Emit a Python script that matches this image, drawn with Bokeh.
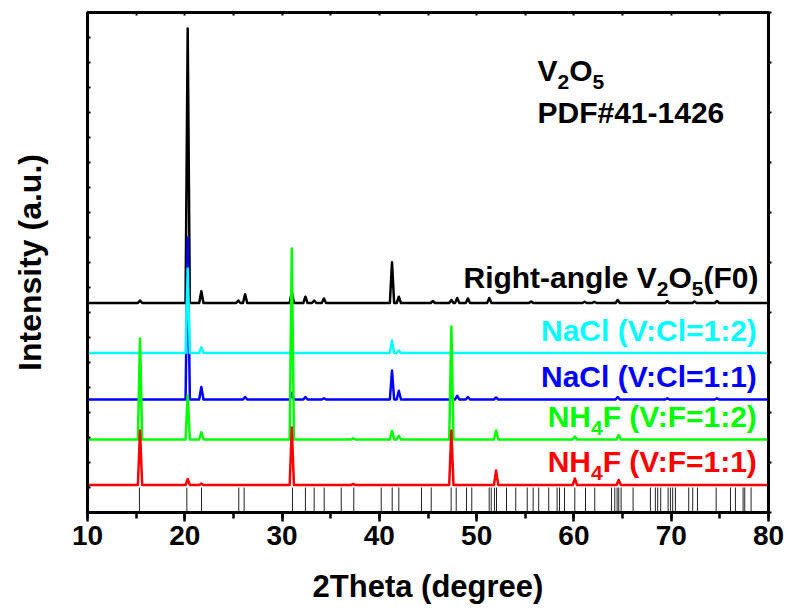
from bokeh.plotting import figure
from bokeh.models import Label, LinearAxis, SingleIntervalTicker, CustomJSTickFormatter
from bokeh.embed import file_html
from bokeh.resources import INLINE

# ---------------- data ----------------
x_range_deg = (10, 80)
y_range_au = (0, 20)
x_tick_labels = ["10", "20", "30", "40", "50", "60", "70", "80"]

# draw order: black, blue, cyan, green, red
series_labels = ["Right-angle V2O5(F0)", "NaCl (V:Cl=1:1)", "NaCl (V:Cl=1:2)",
                 "NH4F (V:F=1:2)", "NH4F (V:F=1:1)"]
series_colors = ["#000000", "#0000FF", "#00FFFF", "#00FF00", "#FF0000"]
series_baselines = [8.38, 4.52, 6.38, 2.92, 1.10]

f0_pos = [15.4, 20.3, 21.7, 25.5, 26.2, 31.0, 32.4, 33.3, 34.3, 41.3, 42.0,
          45.5, 47.4, 48.0, 49.1, 51.3, 55.6, 61.1, 62.1, 64.5, 69.6, 72.4, 74.7]
f0_h = [0.10, 10.98, 0.47, 0.10, 0.35, 0.45, 0.25, 0.10, 0.18, 1.63, 0.25,
        0.08, 0.12, 0.20, 0.18, 0.20, 0.06, 0.05, 0.05, 0.12, 0.08, 0.06, 0.08]

nacl11_pos = [15.4, 20.3, 21.7, 26.2, 31.0, 32.4, 34.3, 41.3, 42.0, 47.4, 48.0,
              49.1, 52.0, 64.5, 69.6, 74.7]
nacl11_h = [0.10, 6.48, 0.50, 0.10, 0.27, 0.10, 0.05, 1.16, 0.35, 0.12, 0.15,
            0.10, 0.08, 0.10, 0.05, 0.05]

nacl12_pos = [15.4, 20.3, 21.7, 31.0, 41.3, 42.0, 47.4]
nacl12_h = [0.05, 3.38, 0.23, 0.15, 0.50, 0.10, 0.05]

nh4f12_pos = [15.4, 20.3, 21.7, 31.0, 37.3, 41.3, 42.0, 47.4, 52.0, 60.1, 64.6]
nh4f12_h = [4.04, 1.76, 0.29, 7.64, 0.05, 0.35, 0.15, 4.52, 0.36, 0.12, 0.18]

nh4f11_pos = [15.4, 20.3, 21.7, 31.0, 37.3, 47.4, 52.0, 60.1, 64.6]
nh4f11_h = [2.18, 0.24, 0.06, 2.30, 0.04, 2.18, 0.58, 0.26, 0.20]

series_pos = [f0_pos, nacl11_pos, nacl12_pos, nh4f12_pos, nh4f11_pos]
series_h = [f0_h, nacl11_h, nacl12_h, nh4f12_h, nh4f11_h]

# PDF#41-1426 reference stick positions (2theta)
pdf_pos = [15.34, 20.21, 21.72, 25.55, 26.10, 31.07, 32.40, 33.30, 34.33, 36.08,
           37.37, 40.19, 41.32, 42.00, 44.33, 45.33, 47.38, 47.90, 48.96, 49.50,
           51.29, 51.50, 51.83, 52.04, 53.07, 54.02, 55.20, 55.81, 56.38, 57.41,
           58.27, 58.52, 59.03, 60.09, 61.19, 62.14, 63.86, 64.20, 64.44, 64.61,
           64.85, 66.08, 67.86, 68.37, 68.61, 68.92, 69.68, 69.92, 70.15, 70.43,
           71.80, 72.21, 72.70, 74.62, 76.09, 76.60, 77.39, 77.56, 78.21]
pdf_stick_top = 1.0

# ---------------- layout helpers (screen px -> data) ----------------
FIG_W, FIG_H = 789, 609
FRAME_L, FRAME_R, FRAME_T, FRAME_B = 87, 768, 12, 512
def dx(px):
    return x_range_deg[0] + (px - FRAME_L) * (x_range_deg[1] - x_range_deg[0]) / (FRAME_R - FRAME_L)
def dy(py):
    return y_range_au[0] + (FRAME_B - py) * (y_range_au[1] - y_range_au[0]) / (FRAME_B - FRAME_T)

FONT = "Liberation Sans"
p = figure(width=FIG_W, height=FIG_H, x_range=x_range_deg, y_range=y_range_au,
           output_backend="svg", toolbar_location=None,
           min_border_left=FRAME_L, min_border_right=FIG_W - FRAME_R,
           min_border_top=FRAME_T, min_border_bottom=FIG_H - FRAME_B)
p.background_fill_color = "white"
p.border_fill_color = "white"
p.outline_line_color = "black"
p.outline_line_width = 3
p.grid.visible = False

# PDF sticks
p.segment(x0=pdf_pos, y0=[0] * len(pdf_pos), x1=pdf_pos, y1=[pdf_stick_top] * len(pdf_pos),
          line_color="#222222", line_width=1)

# patterns
HW = 0.22
for pos, hs, base, col in zip(series_pos, series_h, series_baselines, series_colors):
    xs = [x_range_deg[0]]
    ys = [base]
    for c, h in sorted(zip(pos, hs)):
        xs += [c - HW, c, c + HW]
        ys += [base, base + h, base]
    xs.append(x_range_deg[1])
    ys.append(base)
    p.line(xs, ys, line_color=col, line_width=2.5, line_join="round")

# ---------------- axes ----------------
empty = CustomJSTickFormatter(code="return ''")

xa = p.xaxis[0]
xa.ticker = SingleIntervalTicker(interval=10, num_minor_ticks=2)
xa.axis_line_width = 3
xa.major_tick_line_width = 2.5
xa.minor_tick_line_width = 2.5
xa.major_tick_out = 9
xa.major_tick_in = 0
xa.minor_tick_out = 6
xa.minor_tick_in = 0
xa.major_label_text_font = FONT
xa.major_label_text_font_style = "bold"
xa.major_label_text_font_size = "28px"
xa.major_label_text_color = "black"
xa.major_label_standoff = 4
xa.major_label_overrides = {10 * (i + 1): t for i, t in enumerate(x_tick_labels)}
xa.axis_label = "2Theta (degree)"
xa.axis_label_text_font = FONT
xa.axis_label_text_font_style = "bold"
xa.axis_label_text_font_size = "31px"
xa.axis_label_text_color = "black"
xa.axis_label_standoff = 21

ya = p.yaxis[0]
ya.ticker = SingleIntervalTicker(interval=1, num_minor_ticks=0)
ya.formatter = empty
ya.axis_line_width = 3
ya.major_tick_in = 3
ya.major_tick_out = 0
ya.major_tick_line_width = 2
ya.major_label_standoff = 0
ya.axis_label = "Intensity (a.u.)"
ya.axis_label_text_font = FONT
ya.axis_label_text_font_style = "bold"
ya.axis_label_text_font_size = "32px"
ya.axis_label_text_color = "black"
ya.axis_label_standoff = 40

top = LinearAxis(ticker=SingleIntervalTicker(interval=5, num_minor_ticks=0), formatter=empty,
                 axis_line_width=3, major_tick_in=3, major_tick_out=0, major_tick_line_width=2,
                 major_label_standoff=0)
p.add_layout(top, "above")
right = LinearAxis(ticker=SingleIntervalTicker(interval=2, num_minor_ticks=0), formatter=empty,
                   axis_line_width=3, major_tick_in=0, major_tick_out=3, major_tick_line_width=2,
                   major_label_standoff=0)
p.add_layout(right, "right")

# ---------------- text ----------------
W = {' ': 278, '(': 333, ')': 333, '-': 333, '#': 556, '.': 278, ':': 333, '=': 584,
     'A': 722, 'C': 722, 'D': 722, 'F': 611, 'H': 722, 'I': 278, 'N': 722, 'O': 778,
     'P': 667, 'R': 722, 'T': 611, 'V': 667, 'a': 556, 'd': 611, 'e': 556, 'g': 611,
     'h': 611, 'i': 278, 'l': 278, 'n': 611, 'r': 389, 's': 556, 't': 333, 'u': 611, 'y': 556}
def tw(s, size):
    return sum(W.get(ch, 556) for ch in s) * size / 1000.0

SIZE, SUB, DROP = 30, 21, 11
BASE_FIX = -10   # rendered baseline sits ~10 px below the requested one
def rich(pieces, baseline_py, color, right_px=None, left_px=None):
    total = sum(tw(t, SUB if sub else SIZE) for t, sub in pieces)
    cur = left_px if left_px is not None else right_px - total
    for t, sub in pieces:
        sz = SUB if sub else SIZE
        p.add_layout(Label(x=dx(cur), y=dy(baseline_py + BASE_FIX + (DROP if sub else 0)), text=t,
                           text_font=FONT, text_font_style="bold", text_font_size=f"{sz}px",
                           text_color=color, text_align="left", text_baseline="alphabetic"))
        cur += tw(t, sz)

RIGHT = 758
rich([("Right-angle V", False), ("2", True), ("O", False), ("5", True), ("(F0)", False)], 287, "#000000", right_px=RIGHT)
rich([("NaCl (V:Cl=1:2)", False)], 340, "#00FFFF", right_px=RIGHT)
rich([("NaCl (V:Cl=1:1)", False)], 386, "#0000FF", right_px=RIGHT)
rich([("NH", False), ("4", True), ("F (V:F=1:2)", False)], 426, "#00FF00", right_px=RIGHT)
rich([("NH", False), ("4", True), ("F (V:F=1:1)", False)], 471, "#FF0000", right_px=RIGHT)

rich([("V", False), ("2", True), ("O", False), ("5", True)], 80, "#000000", left_px=537)
rich([("PDF#41-1426", False)], 122, "#000000", left_px=537)

open("out.html", "w").write(file_html(p, INLINE))
